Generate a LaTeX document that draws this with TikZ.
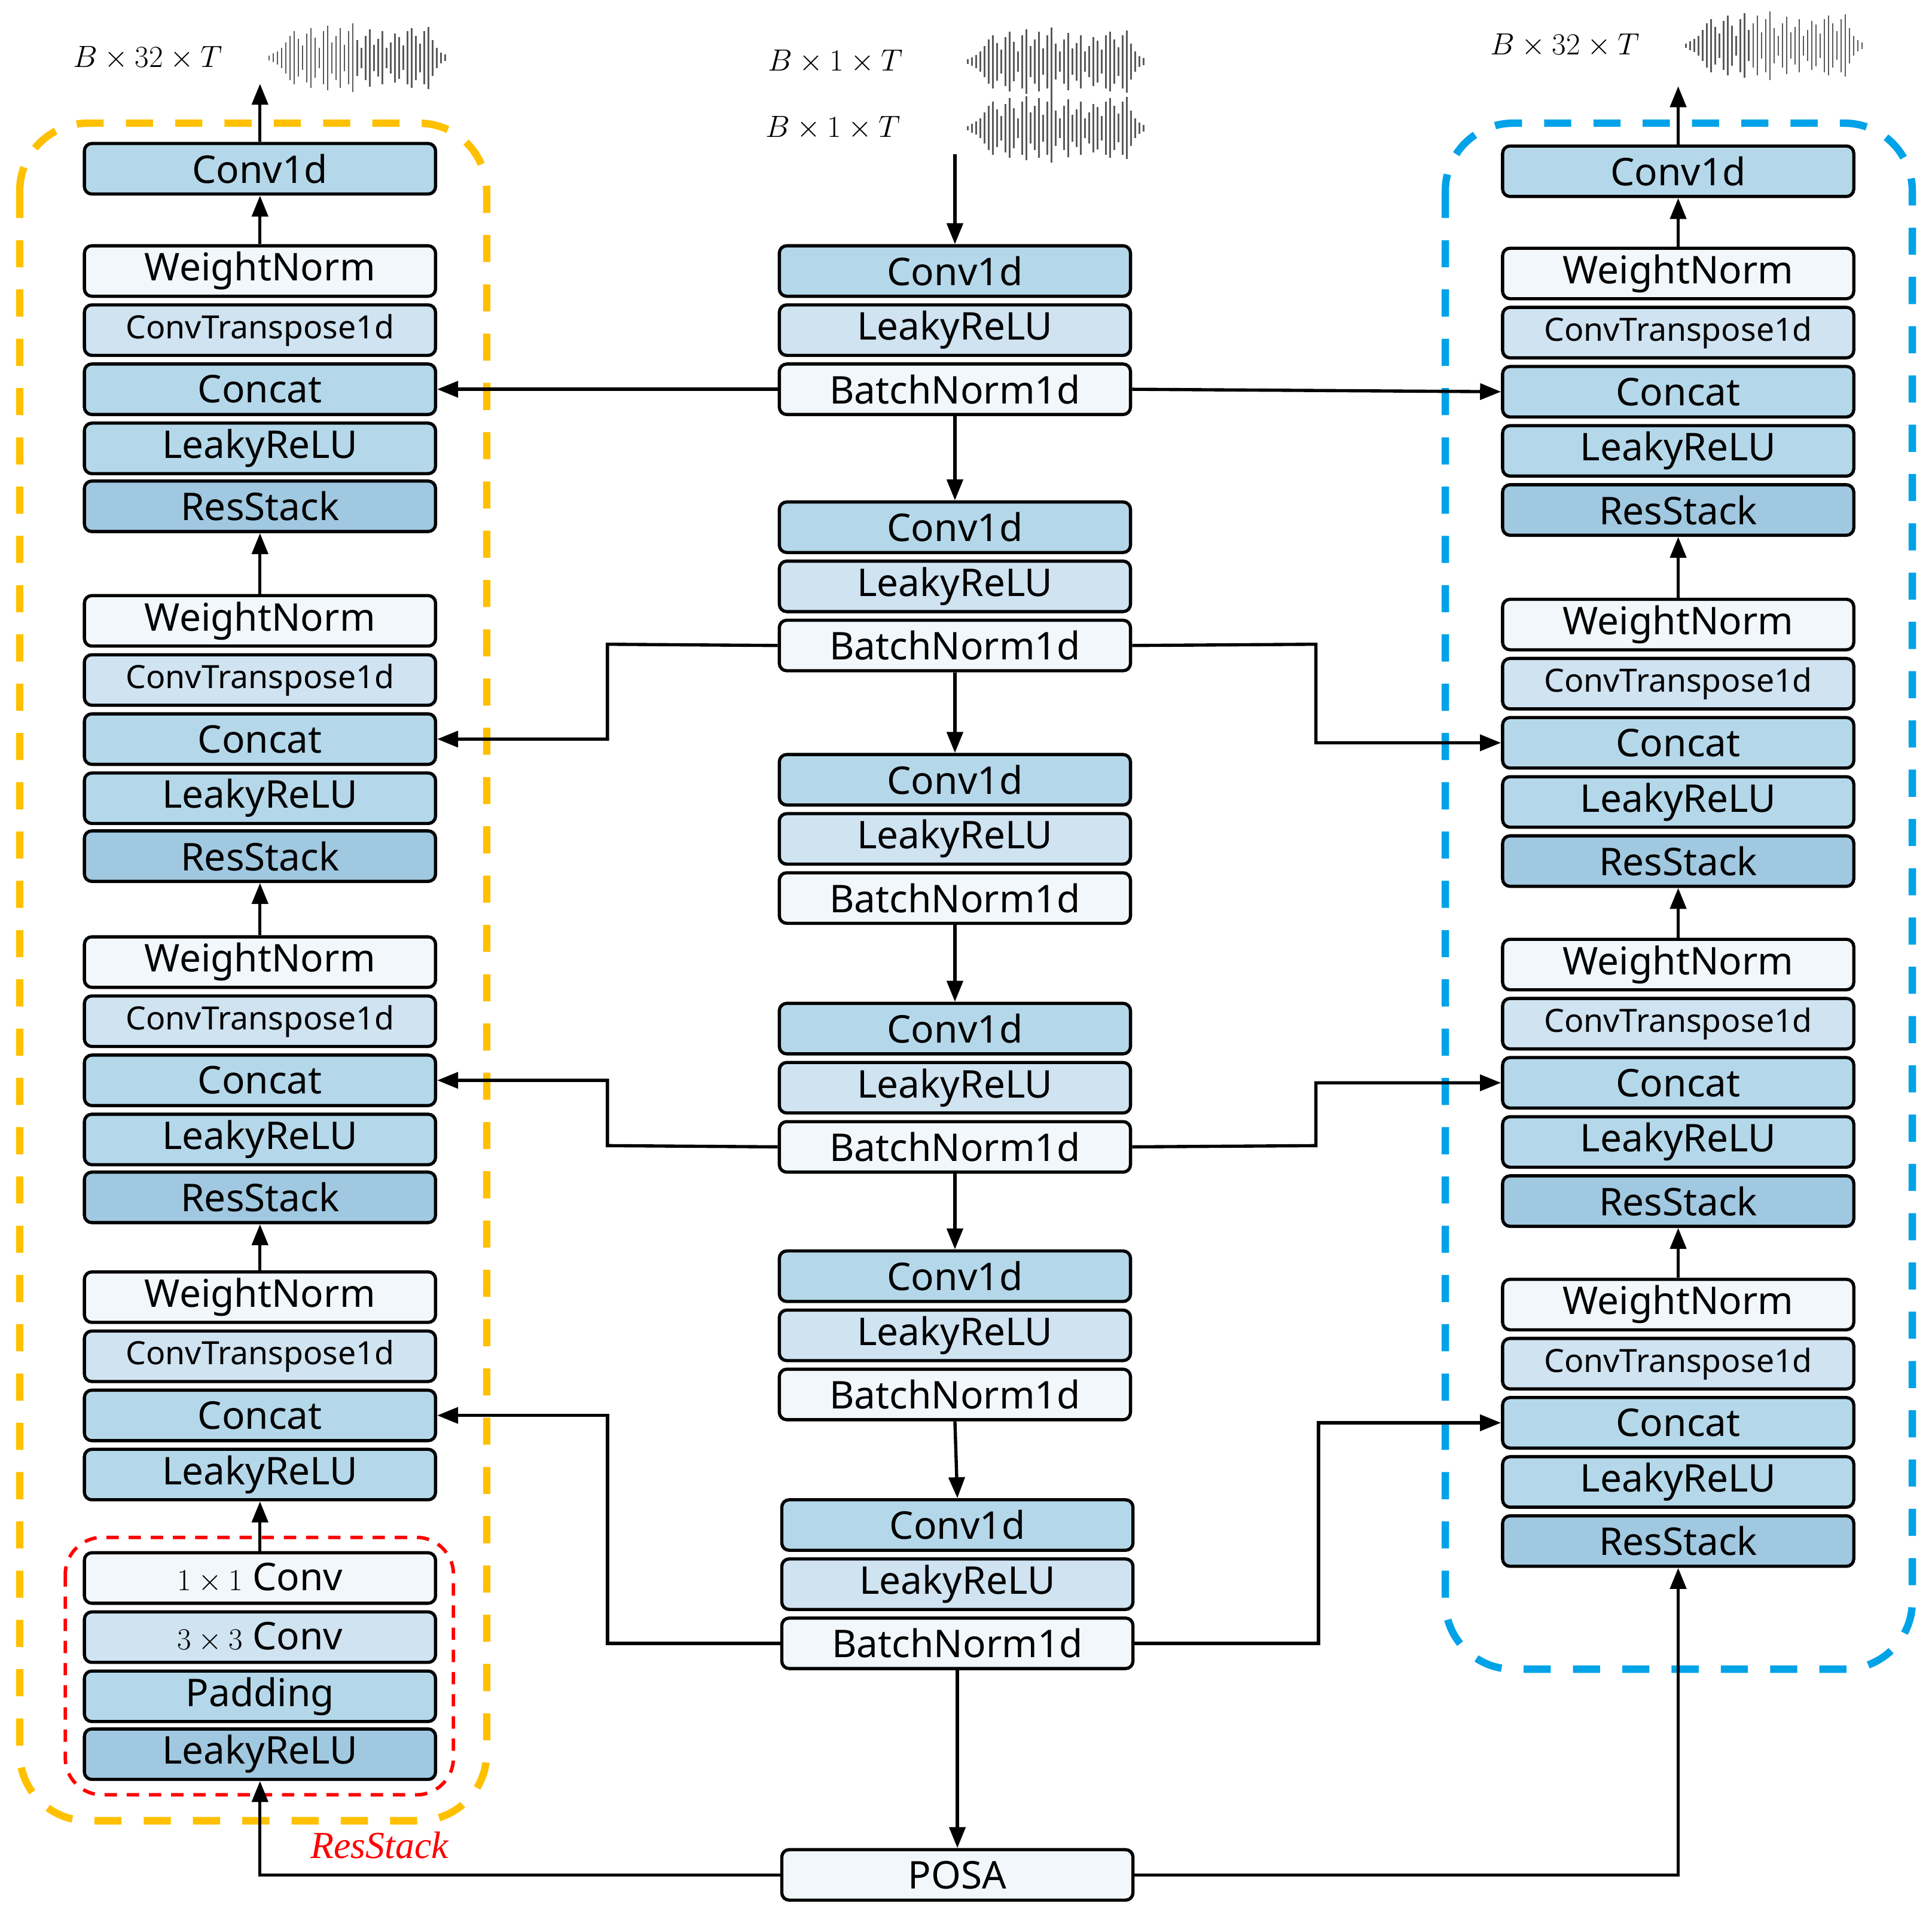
\documentclass[tikz,border=0pt]{standalone}
\usepackage{fontspec}
\setmainfont{Noto Sans}
\newfontfamily\serifit{Liberation Serif}
\usetikzlibrary{arrows.meta}
\definecolor{cA}{HTML}{B4D8EA}
\definecolor{cB}{HTML}{CFE3F1}
\definecolor{cW}{HTML}{F2F7FB}
\definecolor{cD}{HTML}{A0C8E0}
\definecolor{yel}{HTML}{FFC000}
\definecolor{blu}{HTML}{00A2E8}
\tikzset{
 box/.style={draw, line width=2.6pt, rounded corners=6pt, minimum width=285pt, minimum height=41pt, inner sep=0pt, font=\fontsize{31}{36}\selectfont},
 bA/.style={box, fill=cA}, bB/.style={box, fill=cB}, bW/.style={box, fill=cW}, bD/.style={box, fill=cD},
 small/.style={font=\fontsize{26}{30}\selectfont},
 arr/.style={line width=2.6pt, -{Triangle[length=17pt,width=13pt]}},
 ln/.style={line width=2.6pt},
 wave/.style={line width=1.3pt, gray!70!black},
}
\newcommand{\wavef}[2]{%
 \foreach \h [count=\i] in {2,4,6,9,14,20,24,17,11,22,27,18,9,24,29,14,20,27,12,24,31,16,9,20,26,12,17,24,9,14,22,19,11,24,27,20,13,24,28,16,9,5,3}{
  \draw[wave] (#1+\i*3.4, #2-\h*0.9) -- (#1+\i*3.4, #2+\h*0.9);}}
\begin{document}
\begin{tikzpicture}[x=1pt,y=-1pt]
\useasboundingbox (0,0) rectangle (1568,1555);
% containers
\draw[yel, line width=6pt, dash pattern=on 22pt off 18pt, rounded corners=55pt] (16,100) rectangle (395,1478);
\draw[blu, line width=6pt, dash pattern=on 22pt off 18pt, rounded corners=55pt] (1173,100) rectangle (1552,1355);
\draw[red, line width=2.8pt, dash pattern=on 10pt off 8pt, rounded corners=30pt] (53,1248) rectangle (368,1457);
% left column
\node[bA] (LC) at (211,137) {Conv1d};
\foreach \n/\y in {1/220,2/504,3/781,4/1053}{
 \node[bW] (LW\n) at (211,\y) {WeightNorm};
 \node[bB,small] (LT\n) at (211,\y+48) {ConvTranspose1d};
 \node[bA] (LK\n) at (211,\y+96) {Concat};
 \node[bA] (LL\n) at (211,\y+144) {LeakyReLU};
}
\node[bD] (LR1) at (211,411) {ResStack};
\node[bD] (LR2) at (211,695) {ResStack};
\node[bD] (LR3) at (211,972) {ResStack};
\node[bW] (S1) at (211,1281) {$1\times1$ Conv};
\node[bB] (S2) at (211,1329) {$3\times3$ Conv};
\node[bA] (S3) at (211,1377) {Padding};
\node[bD] (S4) at (211,1424) {LeakyReLU};
% right column
\node[bA] (RC) at (1362,139) {Conv1d};
\foreach \n/\y in {1/222,2/507,3/783,4/1059}{
 \node[bW] (RW\n) at (1362,\y) {WeightNorm};
 \node[bB,small] (RT\n) at (1362,\y+48) {ConvTranspose1d};
 \node[bA] (RK\n) at (1362,\y+96) {Concat};
 \node[bA] (RL\n) at (1362,\y+144) {LeakyReLU};
 \node[bD] (RR\n) at (1362,\y+192) {ResStack};
}
% center column
\foreach \n/\y/\x in {1/220/775,2/428/775,3/633/775,4/835/775,5/1036/775,6/1238/777}{
 \node[bA] (CC\n) at (\x,\y) {Conv1d};
 \node[bB] (CL\n) at (\x,\y+48) {LeakyReLU};
 \node[bW] (CB\n) at (\x,\y+96) {BatchNorm1d};
}
\node[bW] (P) at (777,1522) {POSA};
% labels and waves
\node[font=\fontsize{29}{34}\selectfont] (tl) at (120,47) {$B\times 32\times T$};
\node[font=\fontsize{29}{34}\selectfont] (tr) at (1270,37) {$B\times 32\times T$};
\node[font=\fontsize{29}{34}\selectfont] (c1) at (678,50) {$B\times 1\times T$};
\node[font=\fontsize{29}{34}\selectfont] (c2) at (676,104) {$B\times 1\times T$};
\wavef{215}{47}
\wavef{1365}{37}
\wavef{782}{50}
\wavef{782}{104}
\node[red, font=\fontsize{31}{36}\serifit\itshape] (rs) at (308,1498) {ResStack};
% connectors
\coordinate (cin) at (775,125);
\coordinate (lout) at (211,68);
\coordinate (rout) at (1362,70);
\draw[arr] (cin) -- (CC1.north);
\draw[arr] (LC.north) -- (lout);
\draw[arr] (RC.north) -- (rout);
\draw[arr] (LW1.north) -- (LC.south);
\draw[arr] (RW1.north) -- (RC.south);
\draw[arr] (LW2.north) -- (LR1.south);
\draw[arr] (LW3.north) -- (LR2.south);
\draw[arr] (LW4.north) -- (LR3.south);
\draw[arr] (S1.north) -- (LL4.south);
\draw[arr] (RW2.north) -- (RR1.south);
\draw[arr] (RW3.north) -- (RR2.south);
\draw[arr] (RW4.north) -- (RR3.south);
\draw[arr] (CB1.south) -- (CC2.north);
\draw[arr] (CB2.south) -- (CC3.north);
\draw[arr] (CB3.south) -- (CC4.north);
\draw[arr] (CB4.south) -- (CC5.north);
\draw[arr] (CB5.south) -- (CC6.north);
\draw[arr] (CB6.south) -- (P.north);
\draw[arr] (CB1.west) -- (LK1.east);
\draw[arr] (CB1.east) -- (RK1.west);
\draw[arr] (CB2.west) -- (493,523) |- (LK2.east);
\draw[arr] (CB2.east) -- (1068,523) |- (RK2.west);
\draw[arr] (CB4.west) -- (493,930) |- (LK3.east);
\draw[arr] (CB4.east) -- (1068,930) |- (RK3.west);
\draw[arr] (CB6.west) -- (493,1334) |- (LK4.east);
\draw[arr] (CB6.east) -- (1070,1334) |- (RK4.west);
\draw[arr] (P.west) -| (S4.south);
\draw[arr] (P.east) -| (RR4.south);
\end{tikzpicture}
\end{document}
